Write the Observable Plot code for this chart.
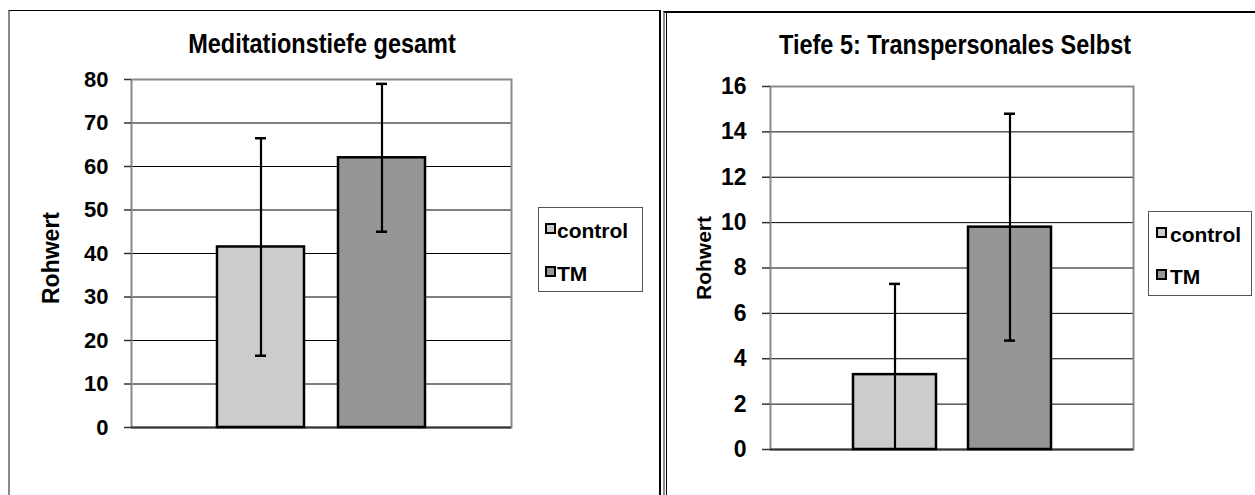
<!DOCTYPE html>
<html>
<head>
<meta charset="utf-8">
<script src="https://cdn.jsdelivr.net/npm/d3@7"></script>
<script src="https://cdn.jsdelivr.net/npm/@observablehq/plot@0.6"></script>
<style>
  html, body { margin: 0; padding: 0; background: #fff; }
  #page { position: relative; width: 1255px; height: 495px; overflow: hidden; font-family: "Liberation Sans", Arial, sans-serif; }
  .box { position: absolute; box-sizing: border-box; }
  #page svg.plot { position: absolute; top: 0; }
  #overlay { position: absolute; left: 0; top: 0; }
</style>
</head>
<body>
<div id="page">
  <div class="box" style="left:8px; top:10px; width:653px; height:500px; border-left:2px solid #8a8a8a; border-top:1px solid #000; border-right:2px solid #000;"></div>
  <div class="box" style="left:663px; top:11px; width:600px; height:500px; border-left:2px solid #8a8a8a; border-top:2px solid #000;"></div>
  <div class="box" style="left:666px; top:13px; width:1px; height:500px; background:#000;"></div>
</div>
<script>
// ---- data ----
const categories = ["control", "TM"];
const colors = ["#cccccc", "#969696"];

const gesamtTitle = "Meditationstiefe gesamt";
const gesamtMean = [41.5, 62.0];
const gesamtSD = [25.0, 17.0];
const gesamtTicks = [0, 10, 20, 30, 40, 50, 60, 70, 80];

const tiefe5Title = "Tiefe 5: Transpersonales Selbst";
const tiefe5Mean = [3.3, 9.8];
const tiefe5SD = [4.0, 5.0];
const tiefe5Ticks = [0, 2, 4, 6, 8, 10, 12, 14, 16];

const yLabel = "Rohwert";

function makeChart(means, sds, ticks, cfg) {
  const data = categories.map((c, i) => ({cat: c, mean: means[i], sd: sds[i]}));
  const top = ticks[ticks.length - 1];
  const chart = Plot.plot({
    width: cfg.width,
    height: cfg.height,
    marginLeft: cfg.ml,
    marginRight: cfg.mr,
    marginTop: cfg.mt,
    marginBottom: cfg.mb,
    style: {fontFamily: "Liberation Sans, Arial, sans-serif", fontSize: cfg.tickFont + "px", fontWeight: "bold", color: "#000", background: "transparent", overflow: "visible"},
    x: {domain: categories, paddingInner: 0.28, paddingOuter: 0.71, axis: null},
    y: {domain: [0, top], axis: null},
    color: {domain: categories, range: colors},
    marks: [
      Plot.ruleY(ticks.slice(1, -1), {stroke: "#000", strokeWidth: 1}),
      Plot.frame({stroke: "#8a8a8a", strokeWidth: 2}),
      Plot.ruleY([0], {stroke: "#333", strokeWidth: 2}),
      Plot.axisY({ticks: ticks, tickSize: cfg.tickSize, tickPadding: cfg.tickPad, stroke: "#333", strokeWidth: 1.5, label: null, tickFormat: d => String(d)}),
      Plot.barY(data, {x: "cat", y: "mean", fill: "cat", stroke: "#000", strokeWidth: 2.5}),
      Plot.ruleX(data, {x: "cat", y1: d => d.mean - d.sd, y2: d => d.mean + d.sd, stroke: "#000", strokeWidth: 2.2, clip: true}),
      Plot.tickY(data, {x: "cat", y: d => d.mean + d.sd, stroke: "#000", strokeWidth: 2.5, insetLeft: cfg.capInset, insetRight: cfg.capInset}),
      Plot.tickY(data, {x: "cat", y: d => d.mean - d.sd, stroke: "#000", strokeWidth: 2.5, insetLeft: cfg.capInset, insetRight: cfg.capInset, clip: true})
    ]
  });
  chart.classList.add("plot");
  chart.style.left = cfg.left + "px";
  return chart;
}

const page = document.getElementById("page");

page.appendChild(makeChart(gesamtMean, gesamtSD, gesamtTicks, {
  left: 0, width: 660, height: 495, ml: 131, mr: 149, mt: 79, mb: 68,
  tickFont: 22, tickSize: 7, tickPad: 16, capInset: 38
}));
page.appendChild(makeChart(tiefe5Mean, tiefe5SD, tiefe5Ticks, {
  left: 660, width: 595, height: 495, ml: 110, mr: 122, mt: 86, mb: 46,
  tickFont: 23, tickSize: 8, tickPad: 16, capInset: 36
}));

// ---- titles, axis labels, legends ----
const ov = d3.select(page).append("svg").attr("id", "overlay").attr("width", 1255).attr("height", 495)
  .style("font-family", "Liberation Sans, Arial, sans-serif").style("font-weight", "bold");

function stretchText(sel, s) {
  sel.style("transform-box", "fill-box").style("transform-origin", "center").style("transform", "scaleY(" + s + ")");
}

const panels = [
  {title: gesamtTitle, tx: 322, ty: 52, lx: 59, ly: 258, lfont: 23,
   leg: {x: 538, y: 207, w: 104, h: 84, sx: 546, tx: 557, rows: [238, 281]}},
  {title: tiefe5Title, tx: 955, ty: 53, lx: 711, ly: 258, lfont: 21,
   leg: {x: 1148, y: 211, w: 103, h: 84, sx: 1157, tx: 1170, rows: [242, 284]}}
];

panels.forEach(p => {
  stretchText(ov.append("text").attr("x", p.tx).attr("y", p.ty).attr("text-anchor", "middle")
    .style("font-size", "23.5px").text(p.title), 1.15);
  ov.append("text").attr("transform", `translate(${p.lx},${p.ly}) rotate(-90)`).attr("text-anchor", "middle")
    .style("font-size", p.lfont + "px").text(yLabel);
  const L = p.leg;
  ov.append("rect").attr("x", L.x + 0.5).attr("y", L.y + 0.5).attr("width", L.w).attr("height", L.h)
    .attr("fill", "#fff").attr("stroke", "#555").attr("stroke-width", 1);
  categories.forEach((c, i) => {
    ov.append("rect").attr("x", L.sx).attr("y", L.rows[i] - 14).attr("width", 9).attr("height", 9)
      .attr("fill", colors[i]).attr("stroke", "#000").attr("stroke-width", 2);
    ov.append("text").attr("x", L.tx).attr("y", L.rows[i]).style("font-size", "21px").text(c);
  });
});
</script>
</body>
</html>
